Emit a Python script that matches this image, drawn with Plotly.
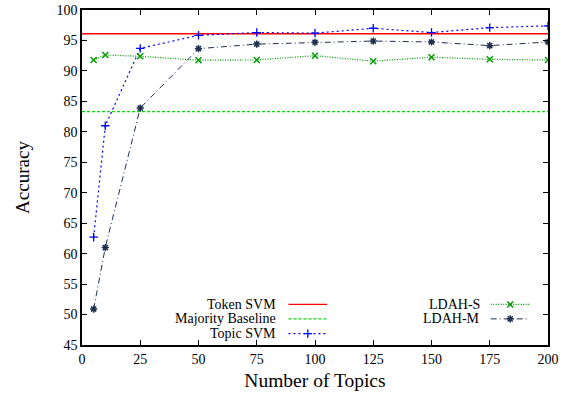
import plotly.graph_objects as go

topics = [5, 10, 25, 50, 75, 100, 125, 150, 175, 200]
token_svm = 96.1
majority_baseline = 83.3
topic_svm = [62.7, 81.0, 93.7, 95.85, 96.3, 96.2, 97.0, 96.3, 97.1, 97.4]
ldah_s = [91.8, 92.6, 92.4, 91.75, 91.8, 92.5, 91.6, 92.25, 91.9, 91.8]
ldah_m = [50.9, 61.0, 83.9, 93.65, 94.4, 94.7, 94.9, 94.75, 94.15, 94.75]
x_ticks = [0, 25, 50, 75, 100, 125, 150, 175, 200]
y_ticks = [45, 50, 55, 60, 65, 70, 75, 80, 85, 90, 95, 100]

FONT = "Liberation Serif"
RED = "#ff0000"
LGREEN = "#00e000"
BLUE = "#0000ff"
DGREEN = "#009a00"
NAVY = "#1f2f4f"

MK_TOPIC = dict(symbol="cross-thin", size=6, color=BLUE, line=dict(color=BLUE, width=1.3))
MK_S = dict(symbol="x-thin", size=6, color=DGREEN, line=dict(color=DGREEN, width=1.5))
MK_M = dict(symbol="asterisk-open", size=6, color=NAVY, line=dict(color=NAVY, width=1.5))
LN_TOKEN = dict(color=RED, width=1.3)
LN_MAJ = dict(color=LGREEN, width=1.2, dash="3px,2px")
LN_TOPIC = dict(color=BLUE, width=1.2, dash="2px,3px")
LN_S = dict(color=DGREEN, width=1.2, dash="1px,1.5px")
LN_M = dict(color=NAVY, width=1.0, dash="6px,3px,1px,3px")

fig = go.Figure()
fig.add_trace(go.Scatter(x=[0, 200], y=[token_svm, token_svm], mode="lines",
                         line=LN_TOKEN, name="Token SVM"))
fig.add_trace(go.Scatter(x=[0, 200], y=[majority_baseline, majority_baseline], mode="lines",
                         line=LN_MAJ, name="Majority Baseline"))
fig.add_trace(go.Scatter(x=topics, y=topic_svm, mode="lines+markers",
                         line=LN_TOPIC, marker=MK_TOPIC, name="Topic SVM"))
fig.add_trace(go.Scatter(x=topics, y=ldah_s, mode="lines+markers",
                         line=LN_S, marker=MK_S, name="LDAH-S"))
fig.add_trace(go.Scatter(x=topics, y=ldah_m, mode="lines+markers",
                         line=LN_M, marker=MK_M, name="LDAH-M"))

# Manual gnuplot-style legend on an overlay axis (0..1 fraction of the plot area)
legend_items = [
    ("Token SVM", 0.421, 0.443, 0.526, 0.121, LN_TOKEN, None),
    ("Majority Baseline", 0.421, 0.443, 0.526, 0.078, LN_MAJ, None),
    ("Topic SVM", 0.421, 0.443, 0.526, 0.034, LN_TOPIC, MK_TOPIC),
    ("LDAH-S", 0.858, 0.877, 0.961, 0.121, LN_S, MK_S),
    ("LDAH-M", 0.858, 0.877, 0.961, 0.078, LN_M, MK_M),
]
for label, tx, x0, x1, yv, ln, mk in legend_items:
    fig.add_trace(go.Scatter(x=[x0, x1], y=[yv, yv], mode="lines", line=ln,
                             xaxis="x2", yaxis="y2", showlegend=False, hoverinfo="skip"))
    if mk is not None:
        fig.add_trace(go.Scatter(x=[(x0 + x1) / 2], y=[yv], mode="markers", marker=mk,
                                 xaxis="x2", yaxis="y2", showlegend=False, hoverinfo="skip"))
    fig.add_annotation(x=tx, y=yv, xref="x2", yref="y2", text=label,
                       showarrow=False, xanchor="right", yanchor="middle",
                       font=dict(family=FONT, size=14, color="black"))

axis_common = dict(showgrid=False, zeroline=False, showline=True, linecolor="black",
                   linewidth=1.5, mirror="allticks", ticks="inside", ticklen=5,
                   tickcolor="black", tickwidth=1, automargin=False,
                   tickfont=dict(family=FONT, size=14, color="black"))

fig.update_layout(
    width=567, height=395,
    margin=dict(l=82, r=19, t=10, b=50),
    paper_bgcolor="white", plot_bgcolor="white",
    showlegend=False,
    xaxis=dict(range=[0, 200], tickvals=x_ticks, ticktext=[str(v) for v in x_ticks],
               title=dict(text="Number of Topics", font=dict(family=FONT, size=19.5, color="black"),
                          standoff=8),
               **axis_common),
    yaxis=dict(range=[45, 100], tickvals=y_ticks, ticktext=[str(v) for v in y_ticks],
               title=dict(text="Accuracy", font=dict(family=FONT, size=19, color="black"),
                          standoff=22),
               **axis_common),
    xaxis2=dict(range=[0, 1], overlaying="x", visible=False, fixedrange=True),
    yaxis2=dict(range=[0, 1], overlaying="y", visible=False, fixedrange=True),
)

fig.write_html("out.html", config={"displayModeBar": False},
               post_script="document.body.style.margin='0';")
